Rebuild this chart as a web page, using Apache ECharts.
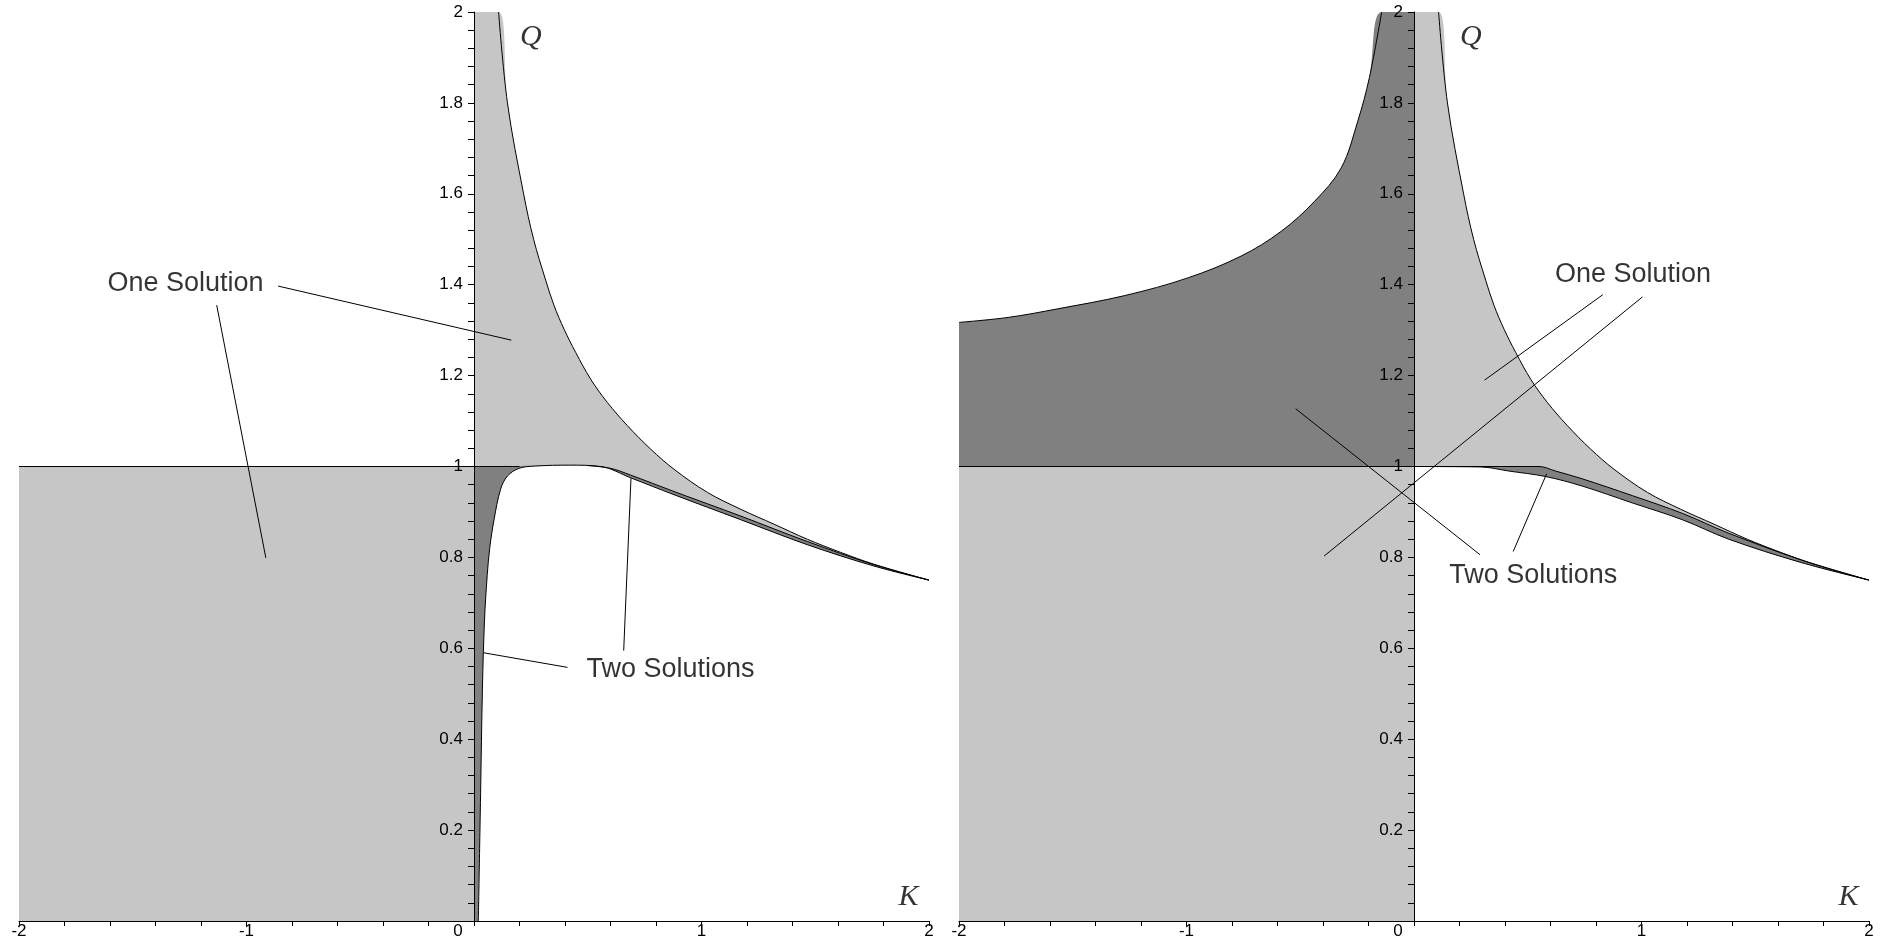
<!DOCTYPE html>
<html>
<head>
<meta charset="utf-8">
<title>One and two solution regions in the K-Q plane</title>
<script src="https://cdn.jsdelivr.net/npm/echarts@6/dist/echarts.min.js"></script>
<style>
  html, body { margin: 0; padding: 0; background: #fff; }
  #chart { width: 1886px; height: 949px; }
</style>
</head>
<body>
<div id="chart"></div>
<script>
// upper edge of the "one solution" region, same curve in both panels
const upperK = [0.108, 0.147, 0.218, 0.262, 0.315, 0.352, 0.396, 0.447, 0.513, 0.586, 0.674, 0.777, 0.879, 1.026, 1.172, 1.319, 1.465, 1.612, 1.758, 2.0];
const upperQ = [2.0, 1.8, 1.6, 1.5, 1.41, 1.354, 1.302, 1.251, 1.192, 1.141, 1.09, 1.038, 0.994, 0.943, 0.906, 0.873, 0.84, 0.811, 0.785, 0.75];

// left panel: edge of the white (no solution) region
const lowerLK = [0.019, 0.029, 0.037, 0.046, 0.058, 0.069, 0.088, 0.117, 0.147, 0.198, 0.27, 0.42, 0.557, 0.689, 0.879, 1.172, 1.465, 1.758, 2.0];
const lowerLQ = [0, 0.28, 0.51, 0.66, 0.76, 0.82, 0.883, 0.95, 0.979, 0.996, 1.001, 1.003, 1.0, 0.975, 0.938, 0.883, 0.828, 0.781, 0.75];
// left panel: top of the thin "two solutions" band
const bandLK = [0.5, 0.6, 0.689, 0.879, 1.172, 1.465, 1.758, 2.0];
const bandLQ = [1.002, 0.996, 0.981, 0.945, 0.891, 0.835, 0.784, 0.75];

// right panel: edge of the white region and top of the band
const lowerRK = [0, 0.293, 0.417, 0.578, 0.739, 0.959, 1.179, 1.384, 1.7, 2.0];
const lowerRQ = [1, 0.999, 0.99, 0.978, 0.957, 0.92, 0.883, 0.84, 0.789, 0.75];
const bandRK = [0.293, 0.549, 0.622, 0.739, 0.959, 1.179, 1.384, 1.7, 2.0];
const bandRQ = [1.0, 1.0, 0.99, 0.973, 0.936, 0.897, 0.853, 0.795, 0.75];
// right panel: upper edge of the dark region for K < 0
const darkRK = [-2, -1.784, -1.565, -1.272, -0.994, -0.76, -0.585, -0.438, -0.32, -0.247, -0.196, -0.142];
const darkRQ = [1.317, 1.328, 1.347, 1.376, 1.415, 1.463, 1.517, 1.583, 1.657, 1.76, 1.856, 2.0];

// annotation leaders [[K1, Q1], [K2, Q2]] and label anchors
const leadersL = [
  [[-0.861, 1.397], [0.164, 1.278]],
  [[-1.131, 1.355], [-0.915, 0.799]],
  [[0.411, 0.558], [0.044, 0.590]],
  [[0.658, 0.595], [0.690, 0.974]]
];
const leadersR = [
  [[0.83, 1.378], [0.31, 1.19]],
  [[1.004, 1.373], [-0.395, 0.803]],
  [[-0.52, 1.127], [0.29, 0.806]],
  [[0.436, 0.813], [0.583, 0.984]]
];
const textsL = [["One Solution", -1.268, 1.402], ["Two Solutions", 0.864, 0.554]];
const textsR = [["One Solution", 0.963, 1.422], ["Two Solutions", 0.524, 0.76]];

const LIGHT = "#c6c6c6";
const DARK = "#808080";
const SMOOTH = 0.35;

const zip = (k, q) => k.map((v, i) => [v, q[i]]);

function area(grid, data, color) {
  return {
    type: "line", xAxisIndex: grid, yAxisIndex: grid, data: data, z: 2,
    symbol: "none", smooth: SMOOTH, silent: true,
    lineStyle: { opacity: 0 },
    areaStyle: { color: color, opacity: 1, origin: "start" }
  };
}
function curve(grid, data, smooth) {
  return {
    type: "line", xAxisIndex: grid, yAxisIndex: grid, data: data, z: 3,
    symbol: "none", smooth: smooth ? SMOOTH : false, silent: true,
    lineStyle: { color: "#000", width: 1 }
  };
}
function text(grid, t, k, q, style) {
  return {
    type: "scatter", xAxisIndex: grid, yAxisIndex: grid, data: [[k, q]], z: 6,
    symbolSize: 0, silent: true,
    label: Object.assign({
      show: true, position: "inside", formatter: t, color: "#000",
      fontFamily: "Liberation Sans", fontSize: 27
    }, style || {})
  };
}

function xAxis(i) {
  return {
    gridIndex: i, type: "value", min: -2, max: 2, interval: 1, z: 5,
    axisLine: { onZero: false, lineStyle: { color: "#000", width: 1 } },
    axisTick: { length: 5, lineStyle: { color: "#000" } },
    minorTick: { show: true, splitNumber: 5, length: 5, lineStyle: { color: "#000" } },
    splitLine: { show: false }, minorSplitLine: { show: false },
    axisLabel: {
      margin: 2, fontSize: 17, color: "#000", fontFamily: "Liberation Sans",
      formatter: v => (v === 0 ? "{z|0}" : String(v)),
      rich: { z: { fontSize: 17, color: "#000", fontFamily: "Liberation Sans", padding: [0, 32, 0, 0] } }
    }
  };
}
// the Q axis crosses at K = 0, half the grid width in from the left edge
function yAxis(i) {
  return {
    gridIndex: i, type: "value", min: 0, max: 2, interval: 0.2, z: 5,
    position: "left", offset: -455,
    axisLine: { show: true, onZero: false, lineStyle: { color: "#000", width: 1 } },
    axisTick: { show: true, length: 6, lineStyle: { color: "#000" } },
    minorTick: { show: true, splitNumber: 5, length: 6, lineStyle: { color: "#000" } },
    splitLine: { show: false }, minorSplitLine: { show: false },
    axisLabel: { showMinLabel: false, margin: 11, fontSize: 17, color: "#000", fontFamily: "Liberation Sans" }
  };
}

const axisName = { color: "#000", fontFamily: "Liberation Serif", fontStyle: "italic", fontSize: 30 };

const series = [
  // ---- left panel ----
  area(0, [[-2, 1], [0, 1]], LIGHT),
  area(0, [[0, 2]].concat(zip(upperK, upperQ)), LIGHT),
  area(0, [[0, 1]].concat(zip(bandLK, bandLQ)), DARK),
  area(0, zip(lowerLK, lowerLQ), "#fff"),
  curve(0, [[-2, 1], [0.2, 1]], false),
  curve(0, zip(upperK, upperQ), true),
  curve(0, zip(lowerLK, lowerLQ), true),
  curve(0, zip(bandLK, bandLQ), true),
  // ---- right panel ----
  area(1, zip(darkRK, darkRQ).concat([[0, 2]]), DARK),
  area(1, [[-2, 1], [0, 1]], LIGHT),
  area(1, [[0, 2]].concat(zip(upperK, upperQ)), LIGHT),
  area(1, zip(bandRK, bandRQ), DARK),
  area(1, zip(lowerRK, lowerRQ), "#fff"),
  curve(1, [[-2, 1], [0.549, 1]], false),
  curve(1, zip(darkRK, darkRQ), true),
  curve(1, zip(upperK, upperQ), true),
  curve(1, zip(lowerRK, lowerRQ), true),
  curve(1, zip(bandRK, bandRQ), true)
];

leadersL.forEach(s => series.push(curve(0, s, false)));
leadersR.forEach(s => series.push(curve(1, s, false)));
textsL.forEach(t => series.push(text(0, t[0], t[1], t[2])));
textsR.forEach(t => series.push(text(1, t[0], t[1], t[2])));
[0, 1].forEach(g => {
  series.push(text(g, "Q", 0.25, 1.945, axisName));
  series.push(text(g, "K", 1.91, 0.052, axisName));
});

const chart = echarts.init(document.getElementById("chart"));
chart.setOption({
  animation: false,
  backgroundColor: "#fff",
  grid: [
    { left: 19, right: 957, top: 12, bottom: 28, containLabel: false, outerBoundsMode: "none" },
    { left: 959, right: 17, top: 12, bottom: 28, containLabel: false, outerBoundsMode: "none" }
  ],
  xAxis: [xAxis(0), xAxis(1)],
  yAxis: [yAxis(0), yAxis(1)],
  series: series
});
</script>
</body>
</html>
